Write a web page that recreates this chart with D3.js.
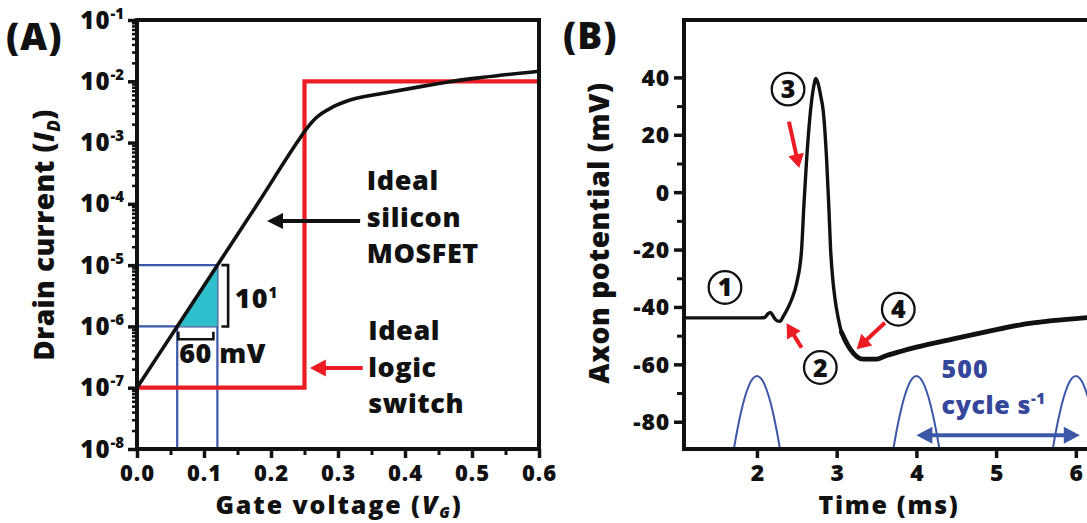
<!DOCTYPE html>
<html>
<head>
<meta charset="utf-8">
<script src="https://cdn.jsdelivr.net/npm/d3@7"></script>
<style>
  html, body { margin: 0; padding: 0; background: #fff; }
  svg { display: block; }
  text { font-family: 'Open Sans', 'Noto Sans', sans-serif; font-weight: 800; fill: #111; }
</style>
</head>
<body>
<svg id="chart" width="1087" height="523"></svg>
<script>
// ---------- Panel A: drain current vs gate voltage ----------
const xTicksA = [0, 0.1, 0.2, 0.3, 0.4, 0.5, 0.6];
const xMinorA = [0.05, 0.15, 0.25, 0.35, 0.45, 0.55];
const yExponentsA = [-8, -7, -6, -5, -4, -3, -2, -1];

// silicon MOSFET transfer curve (V, A)
const gateVoltage   = [0, 0.06, 0.12, 0.18, 0.24, 0.25, 0.267, 0.293, 0.318, 0.368, 0.417, 0.467, 0.517, 0.6];
const mosfetCurrent = [1e-7, 1e-6, 1e-5, 1e-4, 1.047e-3, 1.514e-3, 2.512e-3, 3.846e-3, 4.955e-3, 6.368e-3, 7.96e-3, 9.86e-3, 1.161e-2, 1.462e-2];

// ideal logic switch (step)
const switchVoltage = [0, 0.25, 0.25, 0.6];
const switchCurrent = [1e-7, 1e-7, 1e-2, 1e-2];

// 60 mV / decade slope triangle
const slopeVoltage = [0.06, 0.12, 0.12];
const slopeCurrent = [1e-6, 1e-6, 1e-5];

// ---------- Panel B: axon action potential ----------
const xTicksB = [2, 3, 4, 5, 6];
const yTicksB = [-80, -60, -40, -20, 0, 20, 40];
const yMinorB = [-70, -50, -30, -10, 10, 30];

const apTime = [1.085, 2.05, 2.10, 2.14, 2.17, 2.21, 2.25, 2.29, 2.33, 2.38, 2.435, 2.50, 2.56, 2.59, 2.623, 2.673,
                2.71, 2.74, 2.77, 2.80, 2.83, 2.874, 2.90, 2.924, 2.95, 2.98, 3.02, 3.06, 3.17, 3.33, 3.50, 3.62,
                3.80, 4.00, 4.45, 4.90, 5.29, 5.70, 6.14];
const apVoltage = [-43.8, -43.8, -43.6, -42.3, -41.9, -43.5, -44.8, -45.0, -43.3, -40.8, -37.4, -31.5, -20.0, -4, 11.3, 28.7,
                   36.5, 39.6, 37.5, 33.5, 28.7, 11.3, -4, -20, -30, -37.4, -44, -48.8, -54.7, -58.2, -58.2, -57,
                   -55.5, -54, -51.2, -48.5, -46.3, -44.8, -43.7];
// sweeps spread apart after the spike: thicker band from here on
const recoveryStart = 3.06;

// 500 cycle/s stimulus humps, centred on each period
const stimCenters = [2, 4, 6];
const stimOffset  = [-0.3, -0.25, -0.2, -0.15, -0.1, -0.05, 0, 0.05, 0.1, 0.15, 0.2, 0.25, 0.3];
const stimVoltage = [-91.2, -83.4, -76.7, -71.3, -67.3, -64.9, -64.1, -64.9, -67.3, -71.3, -76.7, -83.4, -91.2];

// ---------- colours ----------
const RED = "#ec1c24", BLUE = "#3b57a8", BLUE_TEXT = "#34479b", TEAL = "#2fbfcd", INK = "#111";

const svg = d3.select("#chart");

// arrow with filled head; both=true gives a double-headed arrow
function arrow(g, x1, y1, x2, y2, color, w, headLen, headHalf, both) {
  const a = Math.atan2(y2 - y1, x2 - x1), c = Math.cos(a), s = Math.sin(a);
  const sx = both ? x1 + c * headLen * 0.8 : x1, sy = both ? y1 + s * headLen * 0.8 : y1;
  g.append("line").attr("x1", sx).attr("y1", sy)
    .attr("x2", x2 - c * headLen * 0.8).attr("y2", y2 - s * headLen * 0.8)
    .attr("stroke", color).attr("stroke-width", w);
  const head = (tx, ty, dc, ds) => {
    const bx = tx - dc * headLen, by = ty - ds * headLen;
    g.append("path").attr("fill", color)
      .attr("d", `M${tx},${ty}L${bx - ds * headHalf},${by + dc * headHalf}L${bx + ds * headHalf},${by - dc * headHalf}Z`);
  };
  head(x2, y2, c, s);
  if (both) head(x1, y1, -c, -s);
}

// multi-line annotation text
function block(g, x, y, lines, size, lh, fill) {
  const t = g.append("text").attr("x", x).attr("y", y).attr("font-size", size).style("fill", fill || INK);
  lines.forEach((l, i) => t.append("tspan").attr("x", x).attr("dy", i === 0 ? 0 : lh).text(l));
  return t;
}

// ================= Panel A =================
const A = { left: 137, right: 539, top: 20, bottom: 449 };
const xA = d3.scaleLinear().domain([0, 0.6]).range([A.left, A.right]);
const yA = d3.scaleLog().domain([1e-8, 1e-1]).range([A.bottom, A.top]);
const gA = svg.append("g");

// guide lines: from each triangle corner to both axes
[[slopeVoltage[0], slopeCurrent[0]], [slopeVoltage[2], slopeCurrent[2]]].forEach(([v, level]) => {
  gA.append("line").attr("x1", xA(0)).attr("x2", xA(0.12)).attr("y1", yA(level)).attr("y2", yA(level))
    .attr("stroke", BLUE).attr("stroke-width", 2.2);
  gA.append("line").attr("x1", xA(v)).attr("x2", xA(v)).attr("y1", yA(1e-8)).attr("y2", yA(level))
    .attr("stroke", BLUE).attr("stroke-width", 2.2);
});

// slope triangle
gA.append("path")
  .attr("d", d3.line().x((d, i) => xA(slopeVoltage[i])).y((d, i) => yA(slopeCurrent[i]))(slopeVoltage) + "Z")
  .attr("fill", TEAL).attr("stroke", "#5a7f95").attr("stroke-width", 0.8);

// ideal logic switch
gA.append("path")
  .attr("d", d3.line().x((d, i) => xA(switchVoltage[i])).y((d, i) => yA(switchCurrent[i]))(switchVoltage))
  .attr("fill", "none").attr("stroke", RED).attr("stroke-width", 4.2);

// silicon MOSFET curve
gA.append("path")
  .attr("d", d3.line().curve(d3.curveMonotoneX).x((d, i) => xA(gateVoltage[i])).y((d, i) => yA(mosfetCurrent[i]))(gateVoltage))
  .attr("fill", "none").attr("stroke", INK).attr("stroke-width", 3.6).attr("stroke-linecap", "round");

// decade bracket and 60 mV bracket
const bx = xA(0.136), bt = xA(0.126);
gA.append("path").attr("d", `M${bt},${yA(1e-5)}H${bx}V${yA(1e-6)}H${bt}`)
  .attr("fill", "none").attr("stroke", INK).attr("stroke-width", 2.6);
const by = yA(Math.pow(10, -6.21)), byt = yA(Math.pow(10, -6.085));
gA.append("path").attr("d", `M${xA(0.0617)},${byt}V${by}H${xA(0.114)}V${byt}`)
  .attr("fill", "none").attr("stroke", INK).attr("stroke-width", 2.6);

const decadeLabel = gA.append("text").attr("x", xA(0.146)).attr("y", yA(Math.pow(10, -5.70)))
  .attr("font-size", 27).attr("letter-spacing", 1);
decadeLabel.append("tspan").text("10");
decadeLabel.append("tspan").attr("dy", -10).attr("font-size", 15).text("1");

gA.append("text").attr("x", xA(0.063)).attr("y", yA(Math.pow(10, -6.59)))
  .attr("font-size", 27).attr("letter-spacing", 0.5).text("60 mV");

block(gA, xA(0.343), yA(Math.pow(10, -3.774)), ["Ideal", "silicon", "MOSFET"], 27, 36.7)
  .attr("letter-spacing", 0.6);
block(gA, xA(0.345), yA(Math.pow(10, -6.222)), ["Ideal", "logic", "switch"], 27, 36.7)
  .attr("letter-spacing", 0.6);

arrow(gA, xA(0.333), yA(Math.pow(10, -4.28)), xA(0.194), yA(Math.pow(10, -4.28)), INK, 4, 16, 8);
arrow(gA, xA(0.337), yA(Math.pow(10, -6.68)), xA(0.258), yA(Math.pow(10, -6.68)), RED, 4, 16, 8.5);

// frame
gA.append("rect").attr("x", A.left).attr("y", A.top).attr("width", A.right - A.left).attr("height", A.bottom - A.top)
  .attr("fill", "none").attr("stroke", INK).attr("stroke-width", 4);

// x axis
const axXA = gA.append("g").attr("transform", `translate(0,${A.bottom})`)
  .call(d3.axisBottom(xA).tickValues(xTicksA).tickSize(9).tickFormat(d3.format(".1f")));
axXA.select(".domain").remove();
axXA.selectAll("line").attr("stroke", INK).attr("stroke-width", 3.5);
axXA.selectAll("text").attr("y", 32).attr("dy", null).attr("font-size", 22).attr("letter-spacing", 1)
  .style("fill", INK).attr("font-family", null);
const axXAm = gA.append("g").attr("transform", `translate(0,${A.bottom})`)
  .call(d3.axisBottom(xA).tickValues(xMinorA).tickSize(6).tickFormat(""));
axXAm.select(".domain").remove();
axXAm.selectAll("line").attr("stroke", INK).attr("stroke-width", 3);

// y axis (log, decades with minor ticks)
const yMinorA = [];
yExponentsA.slice(0, -1).forEach(e => { for (let m = 2; m <= 9; m++) yMinorA.push(m * Math.pow(10, e)); });
const axYA = gA.append("g").attr("transform", `translate(${A.left},0)`)
  .call(d3.axisLeft(yA).tickValues(yExponentsA.map(e => Math.pow(10, e))).tickSize(9).tickFormat(""));
axYA.select(".domain").remove();
axYA.selectAll("line").attr("stroke", INK).attr("stroke-width", 3.5);
axYA.selectAll(".tick").each(function (d) {
  const e = Math.round(Math.log10(d));
  const t = d3.select(this).append("text").attr("x", -13).attr("y", 8).attr("text-anchor", "end")
    .attr("font-size", 24).style("fill", INK);
  t.append("tspan").attr("letter-spacing", 1).text("10");
  t.append("tspan").attr("dy", -10).attr("font-size", 15).text(String(e));
});
const axYAm = gA.append("g").attr("transform", `translate(${A.left},0)`)
  .call(d3.axisLeft(yA).tickValues(yMinorA).tickSize(5).tickFormat(""));
axYAm.select(".domain").remove();
axYAm.selectAll("line").attr("stroke", INK).attr("stroke-width", 2.5);

// titles
const xTitleA = gA.append("text").attr("x", 339).attr("y", 514).attr("text-anchor", "middle")
  .attr("font-size", 25).attr("letter-spacing", 1.9);
xTitleA.append("tspan").text("Gate voltage (");
xTitleA.append("tspan").attr("font-style", "italic").text("V");
xTitleA.append("tspan").attr("font-style", "italic").attr("font-size", 15).attr("dy", 4).text("G");
xTitleA.append("tspan").attr("dy", -4).text(")");

const yTitleA = gA.append("text").attr("transform", "translate(54,235) rotate(-90)").attr("text-anchor", "middle")
  .attr("font-size", 28).attr("letter-spacing", 0.4);
yTitleA.append("tspan").text("Drain current (");
yTitleA.append("tspan").attr("font-style", "italic").text("I");
yTitleA.append("tspan").attr("font-style", "italic").attr("font-size", 17).attr("dy", 6).text("D");
yTitleA.append("tspan").attr("dy", -6).text(")");

gA.append("text").attr("x", 6).attr("y", 50).attr("font-size", 37).attr("letter-spacing", 1).text("(A)");

// ================= Panel B =================
const B = { left: 684, right: 1087, top: 20, bottom: 449 };
const xB = d3.scaleLinear().domain([1.085, 6.14]).range([B.left, B.right]);
const yB = d3.scaleLinear().domain([-89.5, 60]).range([B.bottom, B.top]);
const gB = svg.append("g");

svg.append("defs").append("clipPath").attr("id", "clipB")
  .append("rect").attr("x", B.left).attr("y", B.top).attr("width", B.right - B.left + 10).attr("height", B.bottom - B.top);
const plotB = gB.append("g").attr("clip-path", "url(#clipB)");

// stimulus humps
const hump = d3.line().curve(d3.curveNatural);
stimCenters.forEach(c => {
  plotB.append("path")
    .attr("d", hump(stimOffset.map((o, i) => [xB(c + o), yB(stimVoltage[i])])))
    .attr("fill", "none").attr("stroke", BLUE).attr("stroke-width", 2);
});

// action potential trace
const apPoints = apTime.map((t, i) => [xB(t), yB(apVoltage[i])]);
const apLine = d3.line().curve(d3.curveMonotoneX);
plotB.append("path").attr("d", apLine(apPoints))
  .attr("fill", "none").attr("stroke", INK).attr("stroke-width", 3.4).attr("stroke-linejoin", "round");
plotB.append("path").attr("d", apLine(apPoints.filter((p, i) => apTime[i] >= recoveryStart)))
  .attr("fill", "none").attr("stroke", INK).attr("stroke-width", 4.8)
  .attr("stroke-linejoin", "round").attr("stroke-linecap", "round");

// period arrow and label
arrow(gB, xB(4.0), yB(-84.7), xB(6.05), yB(-84.7), BLUE, 4, 16, 8.5, true);
block(gB, xB(4.316), yB(-64.6), ["500"], 25, 0, BLUE_TEXT).attr("letter-spacing", 1);
const cyc = gB.append("text").attr("x", xB(4.316)).attr("y", yB(-77.35)).attr("font-size", 25)
  .attr("letter-spacing", 0.6).style("fill", BLUE_TEXT);
cyc.append("tspan").text("cycle s");
cyc.append("tspan").attr("dy", -10).attr("font-size", 15).text("-1");

// phase markers
const markers = [
  { n: "1", t: 1.599, v: -33.2 },
  { n: "2", t: 2.795, v: -61.1 },
  { n: "3", t: 2.39, v: 35.9 },
  { n: "4", t: 3.773, v: -40.8 }
];
markers.forEach(m => {
  gB.append("circle").attr("cx", xB(m.t)).attr("cy", yB(m.v)).attr("r", 16.3)
    .attr("fill", "#fff").attr("stroke", INK).attr("stroke-width", 2.3);
  gB.append("text").attr("x", xB(m.t)).attr("y", yB(m.v) + 9).attr("text-anchor", "middle")
    .attr("font-size", 25).text(m.n);
});

// red pointer arrows (tail -> tip)
const pointers = [
  [2.401, 24.6, 2.53, 8.4],
  [2.56, -54.2, 2.372, -45.7],
  [3.605, -45.5, 3.25, -54.7]
];
pointers.forEach(p => arrow(gB, xB(p[0]), yB(p[1]), xB(p[2]), yB(p[3]), RED, 4, 14, 8));

// frame (open on the right beyond the page)
gB.append("path").attr("d", `M${B.right + 10},${B.top}H${B.left}V${B.bottom}H${B.right + 10}`)
  .attr("fill", "none").attr("stroke", INK).attr("stroke-width", 4);

// axes
const axXB = gB.append("g").attr("transform", `translate(0,${B.bottom})`)
  .call(d3.axisBottom(xB).tickValues(xTicksB).tickSize(9).tickFormat(d3.format("d")));
axXB.select(".domain").remove();
axXB.selectAll("line").attr("stroke", INK).attr("stroke-width", 3.5);
axXB.selectAll("text").attr("y", 31.5).attr("dy", null).attr("font-size", 23).style("fill", INK).attr("font-family", null);

const axYB = gB.append("g").attr("transform", `translate(${B.left},0)`)
  .call(d3.axisLeft(yB).tickValues(yTicksB).tickSize(10).tickFormat(d3.format("d")));
axYB.select(".domain").remove();
axYB.selectAll("line").attr("stroke", INK).attr("stroke-width", 3.5);
axYB.selectAll("text").attr("x", -14).attr("dy", null).attr("y", 8).attr("font-size", 23).attr("letter-spacing", 0.8)
  .style("fill", INK).attr("font-family", null).text(d => String(d).replace("\u2212", "-"));
const axYBm = gB.append("g").attr("transform", `translate(${B.left},0)`)
  .call(d3.axisLeft(yB).tickValues(yMinorB).tickSize(7).tickFormat(""));
axYBm.select(".domain").remove();
axYBm.selectAll("line").attr("stroke", INK).attr("stroke-width", 3);

gB.append("text").attr("x", 889).attr("y", 514).attr("text-anchor", "middle").attr("font-size", 25)
  .attr("letter-spacing", 1.7).text("Time (ms)");
gB.append("text").attr("transform", "translate(609,233) rotate(-90)").attr("text-anchor", "middle")
  .attr("font-size", 28).attr("letter-spacing", 0.6).text("Axon potential (mV)");
gB.append("text").attr("x", 563).attr("y", 49).attr("font-size", 37).attr("letter-spacing", 1).text("(B)");
</script>
</body>
</html>
